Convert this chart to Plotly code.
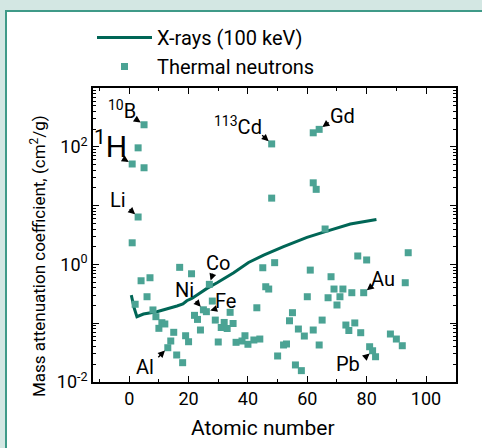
import math
import plotly.graph_objects as go

# ---------------- data ----------------
xray_Z = [0.7, 1.7, 2.6, 4.8, 9.3, 12.7, 16.1, 18.1, 19.4, 21.1, 22.8, 26.2,
          29.6, 35.2, 40.2, 45.3, 52.0, 59.9, 66.6, 74.5, 83.3]
xray_mu = [0.301, 0.179, 0.129, 0.143, 0.157, 0.174, 0.196, 0.212, 0.241, 0.264,
           0.301, 0.391, 0.488, 0.721, 1.08, 1.44, 2.00, 2.88, 3.69, 4.85, 5.82]

neutron_Z = [1, 1, 2, 3, 3, 4, 5, 5, 6, 7, 8, 9, 10, 11, 12, 13, 14, 15, 16, 17,
             18, 19, 20, 21, 22, 23, 24, 25, 26, 27, 28, 29, 30, 31, 32, 33, 34,
             35, 36, 38, 39, 40, 42, 43, 44, 45, 46, 47, 48, 48, 49, 50, 52, 53,
             54, 55, 56, 57, 58, 59, 60, 61, 62, 62, 62, 63, 64, 64, 65, 66, 67,
             68, 69, 70, 71, 72, 73, 74, 75, 76, 77, 78, 79, 80, 81, 82, 83, 88,
             90, 92, 93, 94]
neutron_mu = [51, 2.33, 0.21, 96, 6.4, 0.527, 237, 44, 0.282, 0.593, 0.168, 0.129,
              0.0818, 0.102, 0.097, 0.0383, 0.0498, 0.070, 0.0288, 0.891,
              0.0213, 0.0612, 0.0484, 0.693, 0.136, 0.116, 0.0766, 0.169, 0.157,
              0.458, 0.238, 0.113, 0.0479, 0.0845, 0.103, 0.0813, 0.153,
              0.0989, 0.0473, 0.0498, 0.0612, 0.0438, 0.0518, 0.183, 0.0538,
              0.877, 0.417, 0.381, 112, 13.4, 1.07, 0.0277, 0.0426, 0.0443,
              0.110, 0.151, 0.0195, 0.0796, 0.0156, 0.0605, 0.282, 0.80, 173,
              24.4, 0.0766, 18.9, 198, 0.0426, 0.113, 4.0, 0.271,
              0.617, 0.381, 0.204, 0.282, 0.381, 0.0931, 0.0752, 0.330, 0.101,
              1.39, 0.0689, 0.330, 1.19, 0.0398, 0.0340, 0.0269, 0.0655,
              0.0538, 0.0414, 0.488, 1.58]

# label text, target Z, approx value, text offset (px, +down), arrow tail offset, font size
labels = [
    ("<sup>10</sup>B", 5, 237, -22, -15, -9, -6, 20),
    ("<sup>1</sup>H", 1, 51, -22, -19, -10, -6, 30),
    ("Li", 3, 6.4, -20, -17, -10, -9, 20),
    ("<sup>113</sup>Cd", 48, 112, -34, -18, -11, -10, 20),
    ("Gd", 64, 198, 23, -13, 11, -8, 20),
    ("Co", 27, 0.458, 9, -21, 4, -12, 20),
    ("Ni", 25, 0.169, -19, -20, -9, -10, 20),
    ("Fe", 26, 0.157, 19, -11, 10, -3, 20),
    ("Al", 13, 0.0383, -23, 19, -11, 11, 20),
    ("Au", 79, 0.330, 19, -14, 10, -8, 20),
    ("Pb", 82, 0.034, -25, 13, -9, 8, 20),
]

y_tickvals = [0.01, 0.1, 1, 10, 100, 1000]
y_ticktext = ["10<sup>-2</sup>", "", "10<sup>0</sup>", "", "10<sup>2</sup>", ""]
y_minor = [m * 10 ** e for e in (-2, -1, 0, 1, 2) for m in range(2, 10)]

FONT = "Roboto, sans-serif"
W, H = 482, 448
ML, MR, MT, MB = 93, 26, 88, 66
PW, PH = W - ML - MR, H - MT - MB


def px_x(X):
    return (X - ML) / PW


def px_y(Y):
    return (H - MB - Y) / PH


fig = go.Figure()
fig.add_trace(go.Scatter(
    x=xray_Z, y=xray_mu, mode="lines", name="X-rays (100 keV)",
    line=dict(color="#006656", width=3),
))
fig.add_trace(go.Scatter(
    x=neutron_Z, y=neutron_mu, mode="markers", name="Thermal neutrons",
    marker=dict(symbol="square", size=7, color="#4ba394", line=dict(width=0)),
))


def find_point(z, approx):
    best = None
    for i, (zz, mu) in enumerate(zip(neutron_Z, neutron_mu)):
        if zz == z:
            d = abs(math.log10(mu) - math.log10(approx))
            if best is None or d < best[0]:
                best = (d, i)
    return best[1]


annotations = []
for text, z, approx, tdx, tdy, adx, ady, fs in labels:
    i = find_point(z, approx)
    xv, yv = neutron_Z[i], math.log10(neutron_mu[i])
    annotations.append(dict(
        x=xv, y=yv, xref="x", yref="y", text=text, showarrow=False,
        xshift=tdx, yshift=-tdy, font=dict(family=FONT, size=fs, color="black"),
        xanchor="center", yanchor="middle",
    ))
    annotations.append(dict(
        x=xv, y=yv, xref="x", yref="y", text="", showarrow=True,
        ax=adx, ay=ady, arrowhead=2, arrowsize=1, arrowwidth=1.4,
        arrowcolor="black", standoff=4,
    ))

annotations.append(dict(
    x=px_x(263), y=px_y(428), xref="paper", yref="paper", text="Atomic number",
    showarrow=False, font=dict(family=FONT, size=21, color="black"),
    xanchor="center", yanchor="middle",
))
annotations.append(dict(
    x=px_x(38), y=px_y(236), xref="paper", yref="paper",
    text="Mass attenuation coefficient, (cm<sup>2</sup>/g)", textangle=-90,
    showarrow=False, font=dict(family=FONT, size=17, color="black"),
    xanchor="center", yanchor="middle", yshift=-20,
))

shapes = [
    dict(type="rect", xref="paper", yref="paper", layer="below",
         x0=px_x(6), x1=px_x(495), y0=px_y(470), y1=px_y(11),
         fillcolor="white", line=dict(color="#3f9a88", width=2)),
]

fig.update_layout(
    width=W, height=H,
    margin=dict(l=ML, r=MR, t=MT, b=MB),
    paper_bgcolor="#d3e7e3", plot_bgcolor="white",
    font=dict(family=FONT, size=17, color="black"),
    showlegend=True,
    legend=dict(x=px_x(92), y=px_y(18), xanchor="left", yanchor="top",
                bgcolor="rgba(0,0,0,0)", font=dict(family=FONT, size=20),
                itemwidth=55, tracegroupgap=0),
    annotations=annotations,
    shapes=shapes,
)
fig.update_xaxes(
    range=[-12.2, 110.1], tickvals=[0, 20, 40, 60, 80, 100],
    ticks="inside", ticklen=6, tickwidth=1.2, tickcolor="black",
    minor=dict(tickvals=[-10, 10, 30, 50, 70, 90, 110], ticks="inside",
               ticklen=3, tickcolor="black", tickwidth=1.2),
    showline=True, linecolor="black", linewidth=1.6, mirror="allticks",
    showgrid=False, zeroline=False, tickfont=dict(family=FONT, size=18),
)
fig.update_yaxes(
    type="log", range=[-2, 3], tickvals=y_tickvals, ticktext=y_ticktext,
    ticks="inside", ticklen=6, tickwidth=1.2, tickcolor="black",
    minor=dict(tickvals=y_minor, ticks="inside", ticklen=3,
               tickcolor="black", tickwidth=1),
    showline=True, linecolor="black", linewidth=1.6, mirror="allticks",
    showgrid=False, zeroline=False, tickfont=dict(family=FONT, size=18),
)

fig.write_html("out.html")
